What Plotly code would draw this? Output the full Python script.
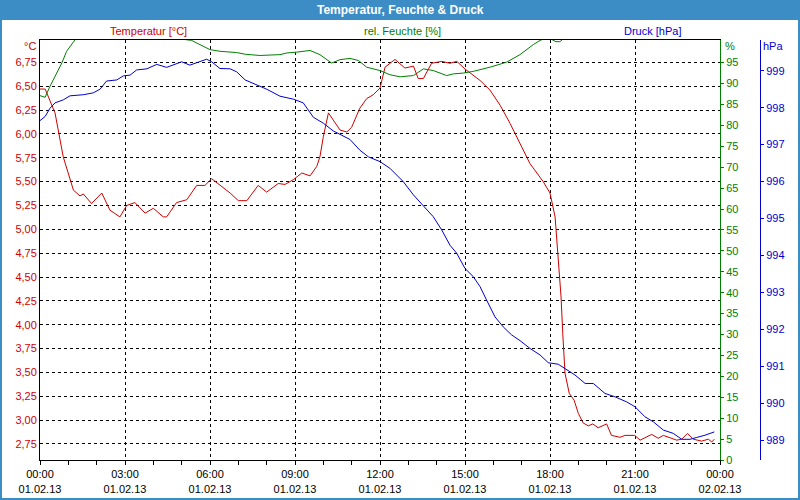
import pandas as pd
import plotly.graph_objects as go

BASE = pd.Timestamp("2013-02-01 00:00")

# ---- data (hours after 01.02.13 00:00) ----
temp_hours = [0.00, 0.18, 0.21, 0.53, 0.82, 1.18, 1.41, 1.53, 1.82, 2.18, 2.47, 2.82, 3.06, 3.35, 3.71,
              4.00, 4.35, 4.47, 4.82, 5.18, 5.53, 5.82, 6.06, 6.29, 6.71, 7.00, 7.30, 7.70, 8.00, 8.41,
              8.65, 8.94, 9.24, 9.53, 9.77, 9.88, 10.00, 10.18, 10.35, 10.59, 10.83, 11.00, 11.29, 11.53,
              11.76, 12.00, 12.18, 12.53, 12.88, 13.18, 13.35, 13.53, 13.82, 14.18, 14.47, 14.71, 15.00,
              15.53, 15.88, 16.24, 16.59, 16.94, 17.29, 17.76, 18.00, 18.18, 18.29, 18.39, 18.45, 18.53,
              18.68, 18.85, 19.00, 19.17, 19.35, 19.51, 19.70, 20.00, 20.17, 20.47, 20.65, 20.99, 21.18,
              21.59, 21.82, 22.00, 22.47, 22.65, 22.85, 23.06, 23.35, 23.59, 23.71, 23.80]
temp_values = [6.47, 6.47, 6.45, 6.22, 5.76, 5.41, 5.35, 5.37, 5.27, 5.38, 5.20, 5.13, 5.25, 5.28, 5.17,
               5.22, 5.13, 5.13, 5.28, 5.31, 5.46, 5.46, 5.53, 5.48, 5.38, 5.30, 5.30, 5.46, 5.39, 5.48,
               5.47, 5.52, 5.59, 5.56, 5.66, 5.76, 5.97, 6.22, 6.15, 6.04, 6.02, 6.07, 6.27, 6.37,
               6.41, 6.48, 6.70, 6.78, 6.69, 6.71, 6.58, 6.58, 6.74, 6.76, 6.74, 6.76, 6.68,
               6.56, 6.46, 6.30, 6.11, 5.90, 5.69, 5.50, 5.38, 5.13, 4.71, 4.29, 3.91, 3.49,
               3.28, 3.21, 3.07, 2.97, 2.94, 2.96, 2.92, 2.96, 2.84, 2.82, 2.84, 2.84, 2.79,
               2.85, 2.81, 2.84, 2.79, 2.80, 2.86, 2.80, 2.78, 2.80, 2.77, 2.80]

hum_hours = [0.00, 0.18, 0.35, 0.59, 0.77, 0.94, 1.24, 2.00, 4.00, 5.35, 5.65, 6.00, 6.35, 6.94, 7.24,
             7.76, 8.47, 8.71, 9.06, 9.53, 9.88, 10.29, 10.59, 10.94, 11.24, 11.53, 12.00, 12.35, 12.71,
             13.18, 13.53, 13.88, 14.35, 14.59, 14.94, 15.29, 15.88, 16.47, 16.94, 17.41, 17.65, 17.93,
             18.21, 18.35, 18.53, 20.00, 23.80]
hum_values = [87.1, 86.7, 89.3, 92.5, 94.9, 97.7, 100.5, 101.5, 101.5, 100.3, 99.3, 98.1, 97.7, 97.4, 97.0,
              96.7, 96.9, 97.3, 97.5, 97.9, 96.9, 94.9, 95.7, 96.0, 95.5, 93.9, 93.1, 92.1, 91.6,
              91.9, 93.5, 93.1, 91.9, 92.3, 92.5, 92.9, 93.9, 95.1, 96.9, 99.3, 100.3, 101.0,
              100.0, 100.0, 101.0, 102.0, 102.0]

press_hours = [0.00, 0.18, 0.35, 0.53, 0.82, 1.06, 1.53, 1.88, 2.12, 2.35, 2.71, 2.94, 3.18, 3.41, 3.77,
               4.12, 4.47, 5.00, 5.29, 5.59, 5.88, 6.06, 6.35, 6.71, 6.94, 7.24, 7.65, 8.00, 8.47, 8.94,
               9.29, 9.65, 10.00, 10.35, 10.94, 11.29, 11.59, 12.00, 12.35, 12.82, 13.18, 13.47, 13.88,
               14.18, 14.47, 14.71, 15.00, 15.29, 15.53, 15.76, 16.06, 16.35, 16.65, 16.94, 17.29, 17.65,
               17.94, 18.29, 18.53, 18.88, 19.24, 19.53, 19.94, 20.29, 20.71, 21.00, 21.35, 21.65, 22.00,
               22.35, 22.65, 22.94, 23.18, 23.47, 23.80]
press_values = [997.65, 997.76, 997.98, 998.13, 998.21, 998.32, 998.35, 998.40, 998.50, 998.72, 998.75,
                998.86, 998.88, 999.02, 999.05, 999.17, 999.09, 999.24, 999.15, 999.24, 999.31, 999.24,
                999.06, 999.05, 998.97, 998.75, 998.61, 998.50, 998.31, 998.23, 998.13, 997.74, 997.58,
                997.37, 997.14, 996.85, 996.67, 996.54, 996.36, 996.00, 995.64, 995.40, 995.05, 994.69,
                994.28, 994.06, 993.65, 993.43, 993.16, 992.80, 992.34, 992.07, 991.85, 991.70, 991.49,
                991.31, 991.10, 991.06, 990.95, 990.77, 990.54, 990.54, 990.27, 990.18, 990.04, 989.91,
                989.64, 989.50, 989.28, 989.19, 989.03, 989.03, 989.08, 989.14, 989.23]

temp_ticks = [2.75 + 0.25 * i for i in range(17)]
hum_ticks = list(range(0, 100, 5))
press_ticks = list(range(989, 1000))
x_tick_hours = [0, 3, 6, 9, 12, 15, 18, 21, 24]
x_tick_text = ["00:00<br>01.02.13", "03:00<br>01.02.13", "06:00<br>01.02.13", "09:00<br>01.02.13",
               "12:00<br>01.02.13", "15:00<br>01.02.13", "18:00<br>01.02.13", "21:00<br>01.02.13",
               "00:00<br>02.02.13"]

RED, GREEN, BLUE = "#d00000", "#008000", "#0000d0"
FRAME = "#3c8dc5"
FONT = "Liberation Sans"


def to_time(hours):
    return [BASE + pd.Timedelta(hours=h) for h in hours]


# ---- geometry helpers (pixels -> paper) ----
W, H = 800, 500
L, R, T, B = 40, 40, 40, 40
PW, PH = W - L - R, H - T - B


def px(x):
    return (x - L) / PW


def py(y):
    return (H - B - y) / PH


fig = go.Figure()
fig.add_trace(go.Scatter(x=to_time(hum_hours), y=hum_values, yaxis="y2", mode="lines",
                         line=dict(color=GREEN, width=1), showlegend=False))
fig.add_trace(go.Scatter(x=to_time(press_hours), y=press_values, yaxis="y3", mode="lines",
                         line=dict(color=BLUE, width=1), showlegend=False))
fig.add_trace(go.Scatter(x=to_time(temp_hours), y=temp_values, yaxis="y", mode="lines",
                         line=dict(color=RED, width=1), showlegend=False))

fig.update_layout(
    width=W, height=H,
    margin=dict(l=L, r=R, t=T, b=B, pad=0, autoexpand=False),
    paper_bgcolor="white", plot_bgcolor="white",
    font=dict(family=FONT, size=11, color="black"),
    separators=",.",
    xaxis=dict(
        type="date", domain=[0, px(720)], automargin=False,
        range=[BASE, BASE + pd.Timedelta(hours=24)],
        tickmode="array", tickvals=to_time(x_tick_hours), ticktext=x_tick_text,
        ticks="outside", ticklen=4, tickcolor="black",
        minor=dict(dtick=3600000, tick0=BASE, ticklen=4, tickcolor="black", ticks="outside", showgrid=False),
        showgrid=True, gridcolor="black", gridwidth=1, griddash="3px,3px",
        showline=True, linecolor="black", linewidth=1, mirror=True,
        zeroline=False, tickfont=dict(size=11, color="black"),
    ),
    yaxis=dict(
        range=[2.582, 6.984], tickmode="array", tickvals=temp_ticks, automargin=False,
        ticktext=[f"{v:.2f}".replace(".", ",") for v in temp_ticks],
        ticks="", showgrid=True, gridcolor="black", gridwidth=1, griddash="3px,3px",
        showline=True, linecolor="black", linewidth=1, zeroline=False,
        tickfont=dict(size=11, color=RED),
    ),
    yaxis2=dict(
        overlaying="y", side="right", anchor="x", automargin=False,
        range=[0, 100.4], tickmode="array", tickvals=hum_ticks,
        ticks="outside", ticklen=3, tickcolor=GREEN,
        showgrid=False, zeroline=False, showline=True, linecolor=GREEN, linewidth=1,
        tickfont=dict(size=11, color=GREEN),
    ),
    yaxis3=dict(
        overlaying="y", side="right", anchor="free", position=px(760), automargin=False,
        range=[988.47, 999.83], tickmode="array", tickvals=press_ticks,
        ticks="outside", ticklen=3, tickcolor=BLUE,
        showgrid=False, zeroline=False, showline=True, linecolor=BLUE, linewidth=1,
        tickfont=dict(size=11, color=BLUE),
    ),
    shapes=[
        dict(type="rect", xref="paper", yref="paper", x0=px(0), x1=px(800), y0=py(20), y1=py(0),
             fillcolor=FRAME, line=dict(width=0), layer="above"),
        dict(type="rect", xref="paper", yref="paper", x0=px(1), x1=px(799), y0=py(499), y1=py(1),
             fillcolor="rgba(0,0,0,0)", line=dict(color=FRAME, width=2), layer="above"),
    ],
    annotations=[
        dict(text="<b>Temperatur, Feuchte & Druck</b>", x=px(400), y=py(10), xref="paper", yref="paper",
             showarrow=False, font=dict(size=12, color="white"), xanchor="center", yanchor="middle"),
        dict(text="Temperatur [°C]", x=px(148), y=py(31), xref="paper", yref="paper",
             showarrow=False, font=dict(size=11, color=RED), xanchor="center", yanchor="middle"),
        dict(text="rel. Feuchte [%]", x=px(402), y=py(31), xref="paper", yref="paper",
             showarrow=False, font=dict(size=11, color=GREEN), xanchor="center", yanchor="middle"),
        dict(text="Druck [hPa]", x=px(652), y=py(31), xref="paper", yref="paper",
             showarrow=False, font=dict(size=11, color=BLUE), xanchor="center", yanchor="middle"),
        dict(text="°C", x=px(30), y=py(46), xref="paper", yref="paper",
             showarrow=False, font=dict(size=11, color=RED), xanchor="center", yanchor="middle"),
        dict(text="%", x=px(730), y=py(46), xref="paper", yref="paper",
             showarrow=False, font=dict(size=11, color=GREEN), xanchor="center", yanchor="middle"),
        dict(text="hPa", x=px(773), y=py(46), xref="paper", yref="paper",
             showarrow=False, font=dict(size=11, color=BLUE), xanchor="center", yanchor="middle"),
    ],
)

fig.write_html("out.html")
